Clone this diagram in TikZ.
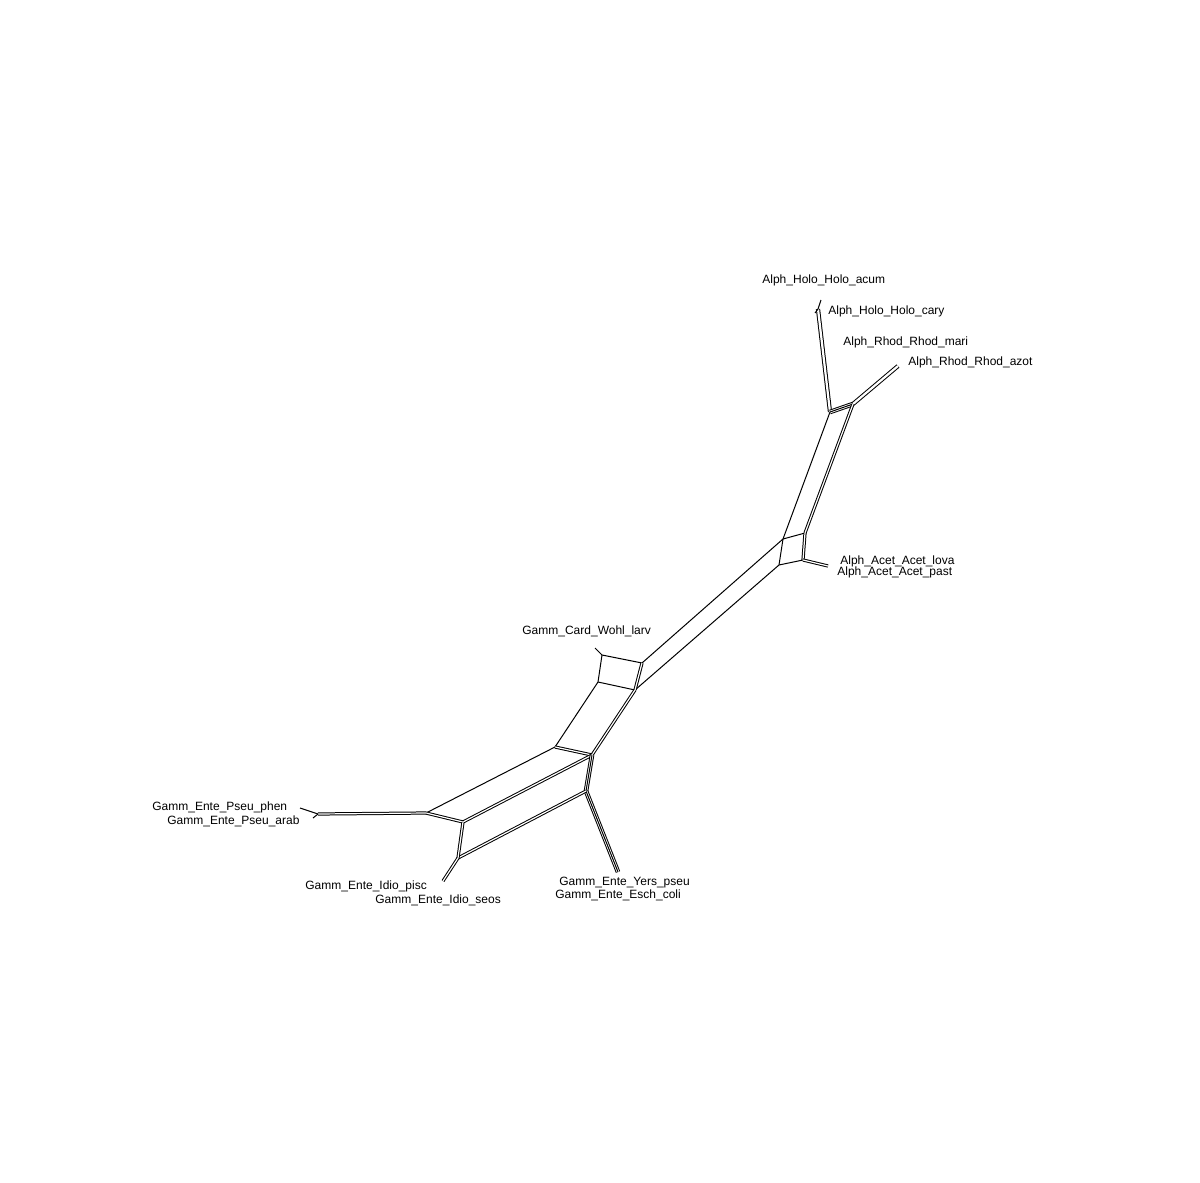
\documentclass[tikz,border=0pt]{standalone}
\usepackage{fontspec}
\setmainfont{Liberation Sans}
\begin{document}
\begin{tikzpicture}[x=0.5pt,y=-0.5pt,
  edge/.style={draw=black,line width=0.5pt},
  dbl/.style={draw=black,line width=0.5pt,double=white,double distance=0.6pt},
  wdbl/.style={draw=black,line width=0.5pt,double=white,double distance=1.1pt},
  tpl/.style={draw=black,line width=0.5pt,double=white,double distance=1.3pt},
  lbl/.style={anchor=west,inner sep=0pt,font=\fontsize{6}{7}\selectfont}]
\path[use as bounding box,fill=white] (0,0) rectangle (1200,1183);

% network vertices
\coordinate (hT) at (818,309);
\coordinate (hAc) at (821,300);
\coordinate (hCa) at (815,313);
\coordinate (A) at (830,412);
\coordinate (B) at (853,404);
\coordinate (rT) at (898,366);
\coordinate (C) at (783,539);
\coordinate (D) at (805,533);
\coordinate (E) at (779,565);
\coordinate (F) at (803,560);
\coordinate (aT) at (828,566);
\coordinate (W1) at (642,663);
\coordinate (W0) at (602,655);
\coordinate (W2) at (598,682);
\coordinate (W3) at (635,690);
\coordinate (wT) at (595,648);
\coordinate (G) at (555,747);
\coordinate (H) at (592,755);
\coordinate (P) at (426,813);
\coordinate (Q) at (463,822);
\coordinate (R) at (586,791);
\coordinate (S) at (458,858);
\coordinate (iT) at (443,881);
\coordinate (pT) at (318,814);
\coordinate (pPh) at (300,808);
\coordinate (pAr) at (313,818);
\coordinate (yT) at (618,872);

% Alphaproteobacteria part
\draw[wdbl] (A) -- (hT);
\draw[edge] (hT) -- (hAc);
\draw[edge] (hT) -- (hCa);
\draw[tpl] (A) -- (B);
\draw[edge] (A) -- (B);
\draw[wdbl] (B) -- (rT);
\draw[edge] (A) -- (C);
\draw[dbl] (B) -- (D);
\draw[edge] (C) -- (D);
\draw[edge] (C) -- (E);
\draw[dbl] (D) -- (F);
\draw[edge] (E) -- (F);
\draw[dbl] (F) -- (aT);

% central bridge
\draw[edge] (C) -- (W1);
\draw[edge] (E) -- (W3);

% Wohlfahrtiimonas box
\draw[edge] (W0) -- (W1);
\draw[edge] (W0) -- (W2);
\draw[edge] (W2) -- (W3);
\draw[dbl] (W1) -- (W3);
\draw[edge] (W0) -- (wT);

% Enterobacterales part
\draw[edge] (W2) -- (G);
\draw[dbl] (W3) -- (H);
\draw[dbl] (G) -- (H);
\draw[edge] (G) -- (P);
\draw[dbl] (H) -- (Q);
\draw[tpl] (H) -- (R);
\draw[edge] (H) -- (R);
\draw[tpl] (R) -- (yT);
\draw[edge] (R) -- (yT);
\draw[dbl] (R) -- (S);
\draw[dbl] (P) -- (Q);
\draw[dbl] (Q) -- (S);
\draw[dbl] (S) -- (iT);
\draw[dbl] (P) -- (pT);
\draw[edge] (pT) -- (pPh);
\draw[edge] (pT) -- (pAr);

% taxon labels
\node[lbl] (acum) at (762,280) {Alph\_Holo\_Holo\_acum};
\node[lbl] (cary) at (828,311) {Alph\_Holo\_Holo\_cary};
\node[lbl] (mari) at (843,342) {Alph\_Rhod\_Rhod\_mari};
\node[lbl] (azot) at (908,362) {Alph\_Rhod\_Rhod\_azot};
\node[lbl] (lova) at (840,561) {Alph\_Acet\_Acet\_lova};
\node[lbl] (past) at (837,572) {Alph\_Acet\_Acet\_past};
\node[lbl] (wohl) at (522,631) {Gamm\_Card\_Wohl\_larv};
\node[lbl] (phen) at (152,807) {Gamm\_Ente\_Pseu\_phen};
\node[lbl] (arab) at (167,821) {Gamm\_Ente\_Pseu\_arab};
\node[lbl] (pisc) at (305,886) {Gamm\_Ente\_Idio\_pisc};
\node[lbl] (seos) at (375,900) {Gamm\_Ente\_Idio\_seos};
\node[lbl] (yers) at (559,883) {Gamm\_Ente\_Yers\_pseu};
\node[lbl] (esch) at (555,895) {Gamm\_Ente\_Esch\_coli};
\end{tikzpicture}
\end{document}
